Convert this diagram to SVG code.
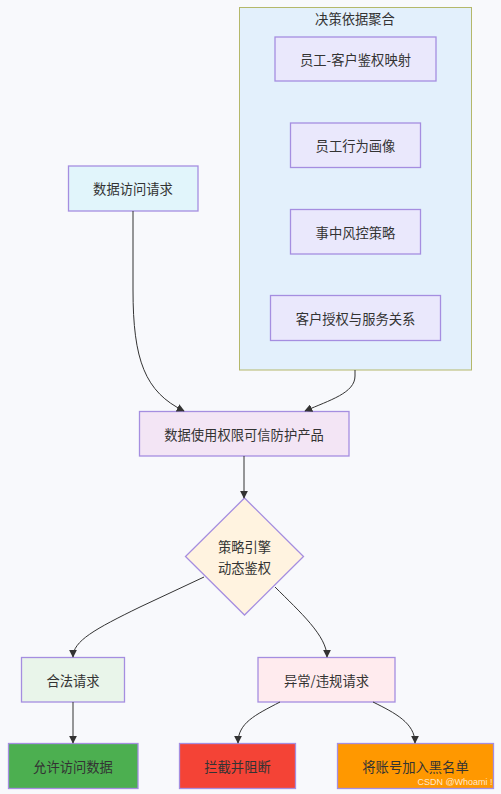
<svg xmlns="http://www.w3.org/2000/svg" width="501" height="794" viewBox="0 0 501 794">
<defs>
<style>
text{font-family:"Noto Sans CJK SC","Liberation Sans",sans-serif;font-size:13.3px;fill:#333;text-anchor:middle;dominant-baseline:central}
.n{stroke:#a58ee0;stroke-width:1.3}
.e{fill:none;stroke:#333;stroke-width:1}
</style>
<marker id="ah" viewBox="0 0 10 10" refX="9" refY="5" markerWidth="8" markerHeight="8" orient="auto-start-reverse" markerUnits="userSpaceOnUse">
<path d="M0,0 L10,5 L0,10 z" fill="#333"/>
</marker>
</defs>
<rect width="501" height="794" fill="#f8f9fc"/>
<g id="cluster">
<rect x="239.5" y="7.5" width="232" height="362.5" fill="#e3f0fc" stroke="#b4b86a" stroke-width="1"/>
<text x="355" y="18">决策依据聚合</text>
</g>
<g id="n_map"><rect class="n" x="275" y="37" width="161" height="44" fill="#eae8fc"/><text x="355.5" y="59">员工-客户鉴权映射</text></g>
<g id="n_profile"><rect class="n" x="290.5" y="123" width="130" height="44.5" fill="#eae8fc"/><text x="355.5" y="145">员工行为画像</text></g>
<g id="n_risk"><rect class="n" x="290.5" y="209.5" width="130" height="44.5" fill="#eae8fc"/><text x="355.5" y="232">事中风控策略</text></g>
<g id="n_auth"><rect class="n" x="270.5" y="295.5" width="170" height="45" fill="#eae8fc"/><text x="355.5" y="318">客户授权与服务关系</text></g>
<g id="n_req"><rect class="n" x="68.5" y="166" width="129.5" height="45" fill="#e1f5fb"/><text x="133" y="188.5">数据访问请求</text></g>
<g id="n_prod"><rect class="n" x="139.5" y="411.5" width="209.5" height="44.5" fill="#f3e5f5"/><text x="244" y="434">数据使用权限可信防护产品</text></g>
<g id="n_engine"><polygon class="n" points="244.5,498 303.5,556.5 244.5,615 185.5,556.5" fill="#fff3e0"/><text x="244.5" y="546.5">策略引擎</text><text x="244.5" y="567">动态鉴权</text></g>
<g id="n_legal"><rect class="n" x="21.5" y="657.5" width="103" height="44.5" fill="#e9f5ea"/><text x="73" y="680">合法请求</text></g>
<g id="n_abn"><rect class="n" x="258" y="657.5" width="137" height="44.5" fill="#ffebee"/><text x="326.5" y="680">异常/违规请求</text></g>
<g id="n_allow"><rect class="n" x="8.5" y="743.5" width="129.5" height="45" fill="#4caf50"/><text x="73" y="766">允许访问数据</text></g>
<g id="n_block"><rect class="n" x="179.5" y="743.5" width="116" height="45" fill="#f44336"/><text x="237.5" y="766">拦截并阻断</text></g>
<g id="n_black"><rect class="n" x="337.5" y="743.5" width="156" height="45" fill="#ff9800"/><text x="415.5" y="766">将账号加入黑名单</text></g>
<g id="edges">
<path class="e" d="M133,211 L133,290 C133,360 145,392 184,411" marker-end="url(#ah)"/>
<path class="e" d="M355,370 L355,376 C355,393 330,400 305,411" marker-end="url(#ah)"/>
<path class="e" d="M244,456 L244,498" marker-end="url(#ah)"/>
<path class="e" d="M204,577 L140,607 C95,629 73,641 73,657" marker-end="url(#ah)"/>
<path class="e" d="M275,587 C300,612 327,636 327,657" marker-end="url(#ah)"/>
<path class="e" d="M73,702 L73,743" marker-end="url(#ah)"/>
<path class="e" d="M280,702 C255,715 238,723 238,743" marker-end="url(#ah)"/>
<path class="e" d="M373,702 C395,713 415,723 415,743" marker-end="url(#ah)"/>
</g>
<text x="455" y="782" style="font-family:'Liberation Sans',sans-serif;font-size:9px;fill:#ffffff;fill-opacity:0.8">CSDN @Whoami !</text>
</svg>
